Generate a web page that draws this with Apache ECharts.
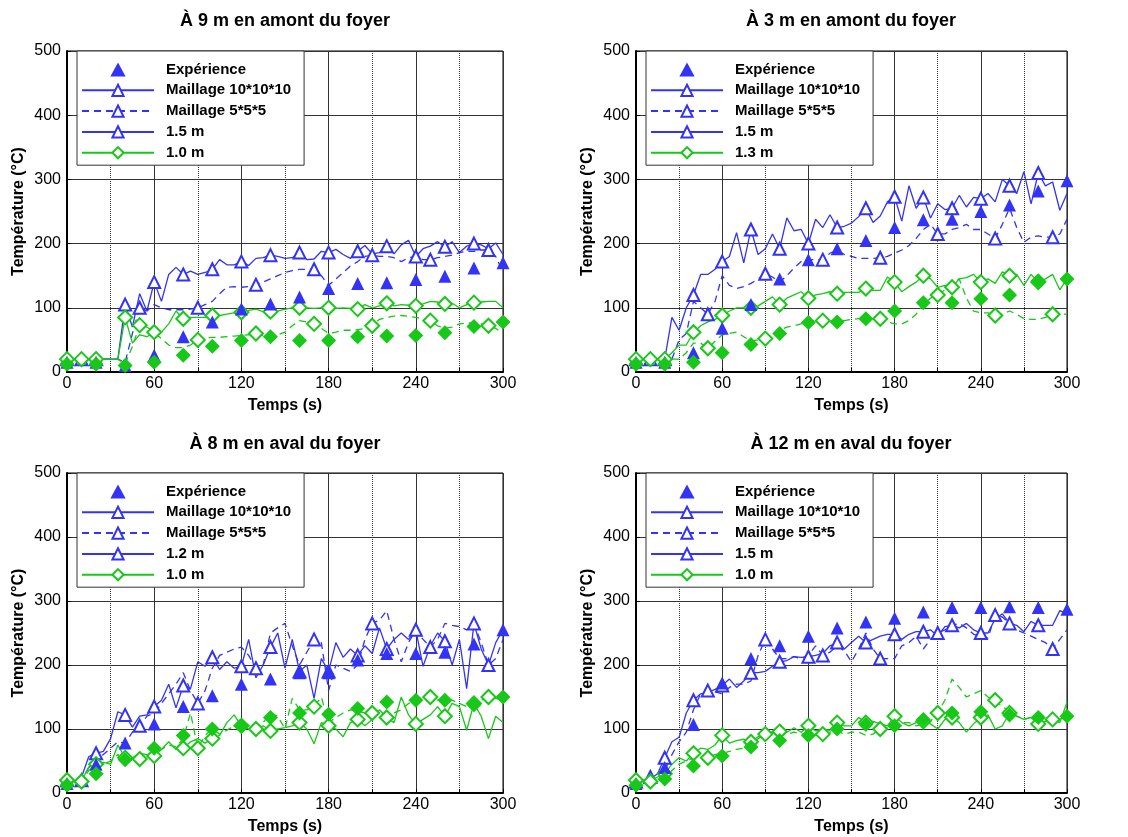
<!DOCTYPE html>
<html>
<head>
<meta charset="utf-8">
<script src="https://cdn.jsdelivr.net/npm/echarts@6/dist/echarts.min.js"></script>
<style>html,body{margin:0;padding:0;background:#fff}#c{width:1128px;height:837px}</style>
</head>
<body>
<div id="c"></div>
<script>
// ---------- data ----------
const TIMES = [0,5,10,15,20,25,30,35,40,45,50,55,60,65,70,75,80,85,90,95,100,105,110,115,120,125,130,135,140,145,150,155,160,165,170,175,180,185,190,195,200,205,210,215,220,225,230,235,240,245,250,255,260,265,270,275,280,285,290,295,300];
const EXP_T = [0,20,40,60,80,100,120,140,160,180,200,220,240,260,280,300];
const MARKS_A = [0,20,40,60,80,100,120,140,160,180,200,220,240,260,280];
const MARKS_B = [10,50,90,130,170,210,250,290];
const X_TICKS = [0,60,120,180,240,300];
const Y_TICKS = [0,100,200,300,400,500];

const TITLES = ['À 9 m en amont du foyer','À 3 m en amont du foyer','À 8 m en aval du foyer','À 12 m en aval du foyer'];
const LABEL_BLUE = ['1.5 m','1.5 m','1.2 m','1.5 m'];
const LABEL_GREEN = ['1.0 m','1.3 m','1.0 m','1.0 m'];

// plot 1 : À 9 m en amont
const P1_EXP = [15,15,10,26,55,78,98,106,117,130,138,139,144,149,162,170];
const P1_EXPG = [12,12,10,15,26,40,49,55,49,49,55,56,57,61,71,78];
const P1_M10 = [20,20,20,20,20,20,20,20,105,70,122,95,140,110,152,163,152,157,152,155,160,175,167,167,172,166,177,178,182,180,177,178,186,175,176,188,186,191,183,177,188,197,184,186,196,184,198,205,180,192,196,203,195,203,186,196,200,198,192,201,183];
const P1_M5 = [20,20,20,20,20,20,20,20,15,60,100,95,105,100,97,97,97,98,100,105,110,122,132,133,132,133,136,140,145,150,155,158,160,160,160,150,135,145,155,165,172,180,182,180,180,178,172,178,180,175,175,178,180,182,186,188,188,190,190,180,155];
const P1_G = [20,20,20,20,20,20,20,20,85,45,58,55,62,62,75,95,83,85,85,85,88,88,90,92,93,96,98,94,94,95,98,100,100,100,99,100,100,99,100,99,98,105,100,103,107,103,105,104,103,106,110,109,106,107,100,105,108,109,110,110,100];
const P1_GD = [20,20,20,20,20,20,20,20,12,40,73,70,62,52,42,38,38,42,50,53,54,54,55,56,57,58,60,57,55,58,62,72,80,78,75,68,60,62,65,65,66,68,72,82,85,87,88,87,85,83,80,72,68,70,75,76,77,75,72,68,60];

// plot 2 : À 3 m en amont
const P2_EXP = [15,15,30,68,105,145,175,192,205,225,237,238,250,260,282,298];
const P2_EXPG = [12,12,15,30,43,60,77,78,83,95,108,108,114,120,142,145];
const P2_M10 = [20,20,20,20,20,85,65,100,120,152,152,160,172,180,217,170,222,183,192,215,192,240,220,222,200,238,225,245,225,227,232,242,255,233,243,265,273,235,290,255,272,240,262,253,255,275,257,272,270,278,265,300,290,278,312,262,310,290,296,252,278];
const P2_M5 = [20,20,20,20,20,20,50,60,110,100,90,110,150,135,130,133,138,145,153,148,140,150,162,172,175,175,175,185,190,183,180,177,177,177,178,180,185,190,197,208,222,230,215,215,222,225,230,222,222,215,208,230,255,225,202,210,212,210,210,215,238];
const P2_G = [20,20,20,20,20,30,42,42,62,72,78,82,88,95,100,100,100,103,110,117,105,115,120,125,115,120,122,125,122,124,124,124,130,127,127,148,140,125,133,140,150,145,132,135,132,145,147,152,140,145,138,156,150,152,135,152,140,145,152,128,145];
const P2_GD = [20,20,20,20,20,20,20,30,45,45,37,48,58,60,62,55,48,50,52,58,65,70,72,75,78,80,80,80,80,80,82,83,83,83,83,78,75,75,80,90,105,115,120,128,140,145,115,95,92,92,88,90,95,90,83,82,82,85,90,90,90];

// plot 3 : À 8 m en aval
const P3_EXP = [15,45,78,108,135,152,170,178,188,188,208,218,218,220,233,255];
const P3_EXPG = [12,30,52,70,90,100,105,118,125,123,132,142,145,145,138,150];
const P3_M10 = [20,18,25,57,62,65,85,127,122,103,120,122,135,145,170,133,168,163,205,198,212,193,205,195,198,240,180,200,228,250,195,240,190,200,148,210,190,235,212,225,215,230,218,258,225,240,250,240,255,198,230,250,237,200,240,163,265,225,200,235,255];
const P3_M5 = [20,18,20,40,55,60,70,80,78,95,105,120,125,140,155,170,188,160,140,160,195,215,220,225,228,215,195,200,250,258,265,230,200,220,240,235,160,200,195,190,200,240,265,270,285,240,205,235,255,240,228,240,265,262,260,255,265,235,200,210,240];
const P3_G = [20,17,20,40,45,48,45,75,55,55,62,60,58,68,80,68,70,80,85,78,85,90,110,122,105,100,98,105,97,100,102,105,110,100,77,110,105,100,88,110,115,105,115,130,118,110,150,122,108,115,122,135,120,140,135,98,140,120,85,120,110];
const P3_GD = [20,18,18,35,45,45,50,60,50,52,53,60,62,68,75,72,85,125,70,90,100,92,98,105,115,105,100,110,125,120,100,148,130,130,135,150,110,118,125,130,128,125,125,125,120,125,130,140,145,150,150,145,148,145,140,135,140,145,150,148,145];

// plot 4 : À 12 m en aval
const P4_EXP = [15,40,107,172,210,230,245,258,267,273,283,290,290,291,290,287];
const P4_EXPG = [12,22,42,58,72,82,90,100,107,105,115,125,127,122,118,120];
const P4_M10 = [18,20,22,30,55,80,87,125,145,155,157,162,168,178,165,175,188,188,190,198,205,207,213,212,213,215,218,230,235,225,235,245,235,240,245,248,248,240,248,252,252,255,245,260,262,258,265,255,250,250,272,280,265,262,252,268,262,262,262,285,280];
const P4_M5 = [15,18,25,30,35,60,80,95,130,155,160,158,155,165,170,170,175,215,240,225,210,210,213,210,215,230,215,220,230,222,205,225,250,225,210,210,210,230,235,245,225,240,250,255,262,265,258,248,245,242,278,275,265,255,250,245,240,235,225,240,255];
const P4_G = [20,18,20,25,30,45,55,50,62,70,68,75,90,78,82,84,80,88,88,95,96,95,102,95,105,97,100,98,110,105,105,118,110,112,108,105,120,110,105,110,112,108,100,115,118,110,95,108,118,122,100,105,125,120,115,118,108,112,115,110,142];
const P4_GD = [20,18,18,22,25,35,45,50,55,55,55,60,62,65,68,70,75,85,92,95,90,92,95,92,95,90,92,95,97,92,95,95,90,92,100,102,105,110,110,105,108,112,125,145,178,165,150,155,160,150,145,135,128,120,115,118,118,115,115,115,120];

const PLOTS = [
  {exp:P1_EXP, expG:P1_EXPG, m10:P1_M10, m5:P1_M5, g:P1_G, gd:P1_GD},
  {exp:P2_EXP, expG:P2_EXPG, m10:P2_M10, m5:P2_M5, g:P2_G, gd:P2_GD},
  {exp:P3_EXP, expG:P3_EXPG, m10:P3_M10, m5:P3_M5, g:P3_G, gd:P3_GD},
  {exp:P4_EXP, expG:P4_EXPG, m10:P4_M10, m5:P4_M5, g:P4_G, gd:P4_GD}
];

// ---------- layout / style ----------
const BLUE = '#3333f5';
const GREEN = '#18c818';
const FONT = '"Liberation Sans", Arial, sans-serif';
const GRIDS = [
  {left:67, top:51, width:436, height:321},
  {left:636, top:51, width:431, height:321},
  {left:67, top:473, width:436, height:320},
  {left:636, top:473, width:431, height:320}
];
const TITLE_POS = [[285,20],[851,20],[285,443],[851,443]];
const DASH = [7,5];
const TRI_ICON = 'path://M6,0 L12,11 L0,11 Z';

function lineData(vals, marks) {
  return vals.map((v, i) => {
    const t = TIMES[i];
    return marks.indexOf(t) >= 0 ? [t, v] : {value:[t, v], symbol:'none'};
  });
}
function lineSeries(name, vals, marks, color, dashed, symbol, size, gi) {
  return {
    type:'line', name, xAxisIndex:gi, yAxisIndex:gi,
    data: lineData(vals, marks),
    symbol, symbolSize:size, showSymbol:true, showAllSymbol:true,
    lineStyle:{color, width:1.3, type: dashed ? DASH : 'solid'},
    itemStyle:{color, borderWidth:1.3},
    emphasis:{disabled:true}, z:3, animation:false
  };
}
function scatterSeries(name, vals, color, symbol, size, gi) {
  return {
    type:'scatter', name, xAxisIndex:gi, yAxisIndex:gi,
    data: EXP_T.map((t, i) => [t, vals[i]]),
    symbol, symbolSize:size, itemStyle:{color, opacity:1},
    emphasis:{disabled:true}, z:5, animation:false
  };
}

const grid = [], xAxis = [], yAxis = [], series = [], legend = [], graphic = [];
PLOTS.forEach((p, gi) => {
  grid.push(Object.assign({show:true, borderColor:'#000', borderWidth:1, backgroundColor:'#fff'}, GRIDS[gi]));
  xAxis.push({
    type:'value', gridIndex:gi, min:X_TICKS[0], max:X_TICKS[X_TICKS.length-1], interval:60,
    name:'Temps (s)', nameLocation:'middle', nameGap:26,
    nameTextStyle:{fontFamily:FONT, fontSize:16, fontWeight:'bold', color:'#000'},
    axisLine:{show:true, onZero:false, lineStyle:{color:'#000', width:2}},
    axisTick:{show:true, inside:true, length:4, lineStyle:{color:'#000'}},
    minorTick:{show:true, splitNumber:2, length:4, lineStyle:{color:'#000'}},
    splitLine:{show:true, lineStyle:{color:'#333', width:1}},
    minorSplitLine:{show:true, lineStyle:{color:'#333', width:1, type:[1,1]}},
    axisLabel:{fontFamily:FONT, fontSize:16, color:'#000', margin:4}
  });
  yAxis.push({
    type:'value', gridIndex:gi, min:Y_TICKS[0], max:Y_TICKS[Y_TICKS.length-1], interval:100,
    name:'Température (°C)', nameLocation:'middle', nameGap:40,
    nameTextStyle:{fontFamily:FONT, fontSize:16, fontWeight:'bold', color:'#000'},
    axisLine:{show:true, onZero:false, lineStyle:{color:'#000', width:2}},
    axisTick:{show:true, inside:true, length:4, lineStyle:{color:'#000'}},
    splitLine:{show:true, lineStyle:{color:'#333', width:1}},
    axisLabel:{fontFamily:FONT, fontSize:16, color:'#000', margin:6}
  });
  series.push(lineSeries('Maillage 10*10*10', p.m10, MARKS_A, BLUE, false, 'emptyTriangle', 12, gi));
  series.push(lineSeries('Maillage 5*5*5', p.m5, MARKS_B, BLUE, true, 'emptyTriangle', 12, gi));
  series.push({type:'line', name:LABEL_BLUE[gi], xAxisIndex:gi, yAxisIndex:gi, data:[], symbol:'emptyTriangle', symbolSize:12,
    lineStyle:{color:BLUE, width:1.3}, itemStyle:{color:BLUE}, animation:false});
  series.push(lineSeries(LABEL_GREEN[gi], p.g, MARKS_A, GREEN, false, 'emptyDiamond', 14, gi));
  series.push(lineSeries('Simulation ' + LABEL_GREEN[gi] + ' (5*5*5)', p.gd, MARKS_B, GREEN, true, 'emptyDiamond', 14, gi));
  series.push(scatterSeries('Expérience', p.exp, BLUE, 'triangle', 13, gi));
  series.push(scatterSeries('Expérience ' + LABEL_GREEN[gi], p.expG, GREEN, 'diamond', 15, gi));
  legend.push({
    orient:'vertical', left:GRIDS[gi].left + 10, top:GRIDS[gi].top,
    data:[{name:'Expérience', icon:TRI_ICON, symbolKeepAspect:true},'Maillage 10*10*10','Maillage 5*5*5',LABEL_BLUE[gi],LABEL_GREEN[gi]],
    itemWidth:72, itemHeight:14, itemGap:5.8, padding:[11,13,5,4],
    symbolKeepAspect:true, selectedMode:false,
    backgroundColor:'#fff', borderColor:'#333', borderWidth:1, borderRadius:0,
    textStyle:{fontFamily:FONT, fontSize:15, fontWeight:'bold', color:'#000', padding:[0,0,0,7]}
  });
  graphic.push({type:'text', x:TITLE_POS[gi][0], y:TITLE_POS[gi][1] + 1, silent:true,
    style:{text:TITLES[gi], font:'bold 18px ' + FONT, fill:'#000', textAlign:'center', textVerticalAlign:'middle'}});
});

const chart = echarts.init(document.getElementById('c'), null, {renderer:'canvas'});
chart.setOption({backgroundColor:'#fff', animation:false, grid, xAxis, yAxis, series, legend, graphic});
</script>
</body>
</html>
